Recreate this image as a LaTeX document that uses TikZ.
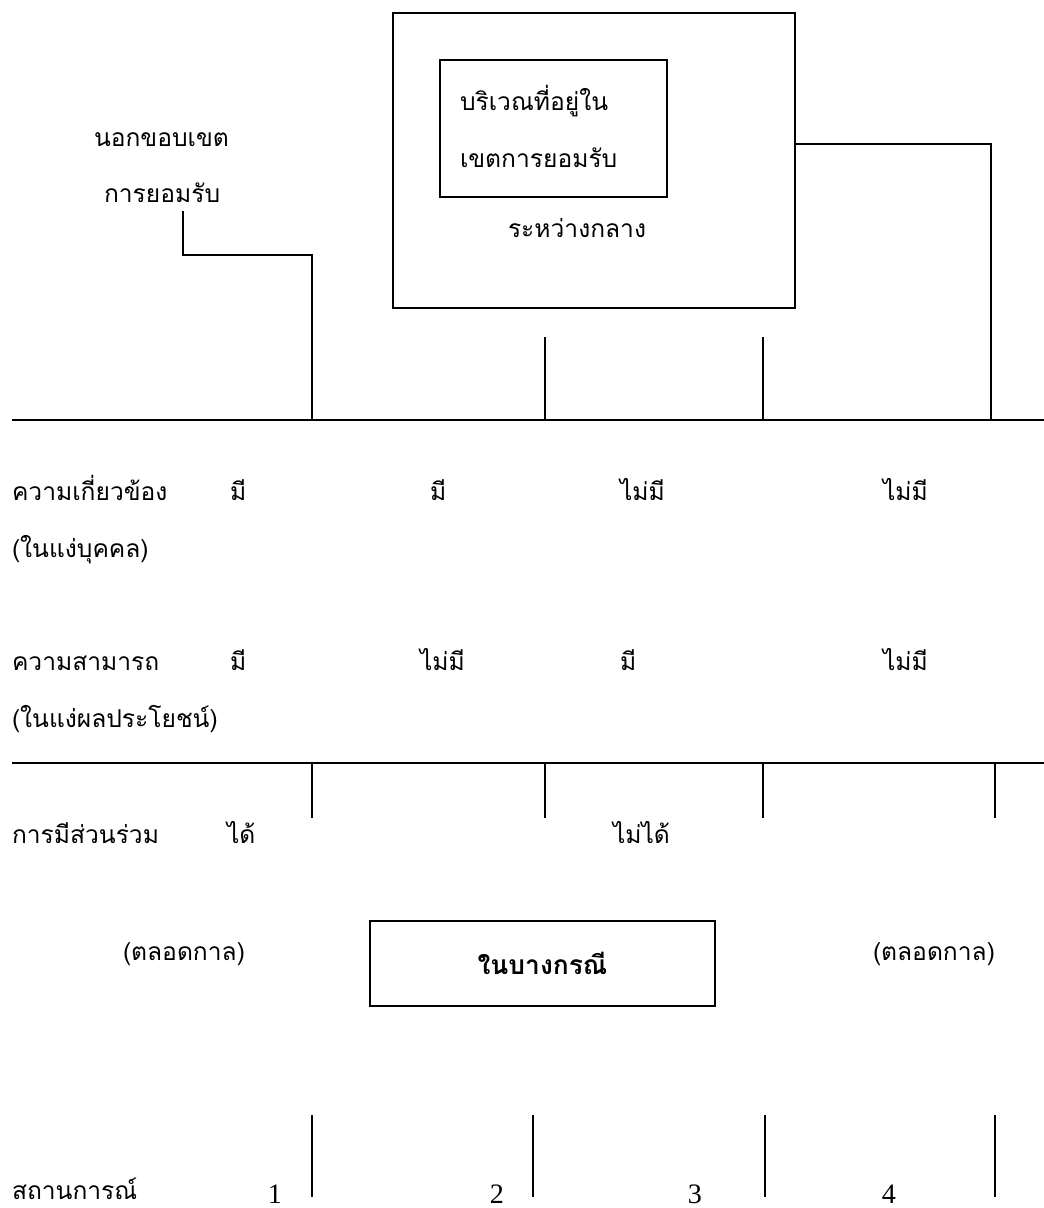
\documentclass[tikz,border=0pt]{standalone}
\usepackage{fontspec}
\setmainfont{Liberation Serif}
\newfontfamily\thai[Script=Thai]{Loma}
\begin{document}
\begin{tikzpicture}[x=0.02cm,y=-0.02cm,
  every node/.style={inner sep=0pt,outer sep=0pt},
  lbl/.style={anchor=base west,font=\thai\fontsize{14}{17}\selectfont},
  num/.style={anchor=base,font=\fontsize{16}{19}\selectfont},
  ln/.style={line width=1pt},
  boxed/.style={draw,line width=1pt}]
\useasboundingbox (0,0) rectangle (1044,1208);
% top boxes
\node[boxed,minimum width=402*0.02cm,minimum height=295*0.02cm,anchor=north west] (outer) at (393,13) {};
\node[boxed,minimum width=227*0.02cm,minimum height=137*0.02cm,anchor=north west] (inner) at (440,60) {};
\node[lbl] (in1) at (460,110) {บริเวณที่อยู่ใน};
\node[lbl] (in2) at (460,167) {เขตการยอมรับ};
\node[lbl] (mid) at (508,237) {ระหว่างกลาง};
\node[lbl] (out1) at (94,146) {นอกขอบเขต};
\node[lbl] (out2) at (104,202) {การยอมรับ};
% baseline 1
\coordinate (L1a) at (12,420);
\coordinate (L1b) at (1044,420);
\draw[ln] (L1a) -- (L1b);
\coordinate (c1) at (183,211);
\coordinate (t1) at (312,420);
\draw[ln] (c1) -- (183,255) -| (t1);
\coordinate (r1) at (795,144);
\coordinate (t4) at (991,420);
\draw[ln] (r1) -| (t4);
\coordinate (t2a) at (545,337);\coordinate (t2b) at (545,420);
\coordinate (t3a) at (763,337);\coordinate (t3b) at (763,420);
\draw[ln] (t2a) -- (t2b);
\draw[ln] (t3a) -- (t3b);
% rows
\node[lbl] (r1l) at (12,500) {ความเกี่ยวข้อง};
\node[lbl] (r1s) at (12,557) {(ในแง่บุคคล)};
\node[lbl] (r1c1) at (230,500) {มี};
\node[lbl] (r1c2) at (430,500) {มี};
\node[lbl] (r1c3) at (620,500) {ไม่มี};
\node[lbl] (r1c4) at (883,500) {ไม่มี};
\node[lbl] (r2l) at (12,670) {ความสามารถ};
\node[lbl] (r2s) at (12,727) {(ในแง่ผลประโยชน์)};
\node[lbl] (r2c1) at (230,670) {มี};
\node[lbl] (r2c2) at (420,670) {ไม่มี};
\node[lbl] (r2c3) at (620,670) {มี};
\node[lbl] (r2c4) at (883,670) {ไม่มี};
% line 2
\coordinate (L2a) at (12,763);
\coordinate (L2b) at (1044,763);
\draw[ln] (L2a) -- (L2b);
\foreach \x/\n in {312/a,545/b,763/c,995/d}{
  \coordinate (m\n1) at (\x,763);
  \coordinate (m\n2) at (\x,818);
  \draw[ln] (m\n1) -- (m\n2);
}
\node[lbl] (r3l) at (12,843) {การมีส่วนร่วม};
\node[lbl] (r3c1) at (227,843) {ได้};
\node[lbl] (r3c2) at (613,843) {ไม่ได้};
\node[lbl] (ever1) at (123,960) {(ตลอดกาล)};
\node[lbl] (ever2) at (873,960) {(ตลอดกาล)};
\node[boxed,minimum width=345*0.02cm,minimum height=85*0.02cm,anchor=north west] (some) at (370,921) {};
\node[font=\thai\bfseries\fontsize{15}{18}\selectfont] (somet) at (some.center) {ในบางกรณี};
% bottom ticks
\foreach \x/\n in {312/a,533/b,765/c,995/d}{
  \coordinate (b\n1) at (\x,1115);
  \coordinate (b\n2) at (\x,1197);
  \draw[ln] (b\n1) -- (b\n2);
}
\node[lbl] (sit) at (12,1199) {สถานการณ์};
\node[num] (n1) at (275,1203) {1};
\node[num] (n2) at (497,1203) {2};
\node[num] (n3) at (695,1203) {3};
\node[num] (n4) at (889,1203) {4};
\end{tikzpicture}
\end{document}
